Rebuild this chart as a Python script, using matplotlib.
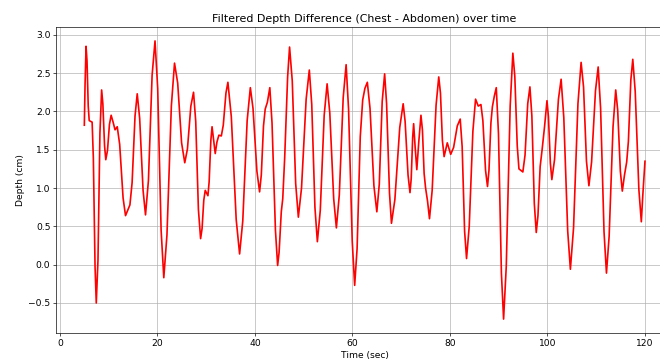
import numpy as np
import matplotlib
matplotlib.use('Agg')
import matplotlib.pyplot as plt

# Filtered chest-minus-abdomen depth signal, sampled along the trace
time_sec = [
    5.0, 5.15, 5.35, 5.55, 5.8, 6.0, 6.6, 6.85, 7.2, 7.45,
    7.8, 8.2, 8.55, 8.8, 9.15, 9.4, 9.75, 10.15, 10.5, 10.9,
    11.3, 11.75, 12.25, 12.95, 13.45, 13.9, 14.35, 14.8, 15.4, 15.85,
    16.35, 17.05, 17.55, 18.15, 18.9, 19.5, 20.05, 20.75, 21.3, 21.95,
    22.85, 23.5, 24.15, 24.95, 25.6, 26.15, 26.85, 27.4, 27.85, 28.4,
    28.85, 29.15, 29.5, 29.8, 30.35, 30.6, 30.95, 31.2, 31.5, 31.85,
    32.2, 32.6, 33.1, 33.5, 34.05, 34.45, 35.15, 36.15, 36.85, 37.5,
    38.4, 39.05, 39.6, 40.4, 40.95, 41.3, 41.75, 42.1, 42.55, 43.05,
    43.5, 44.2, 44.65, 44.95, 45.4, 45.7, 46.1, 46.7, 47.1, 47.65,
    48.35, 48.9, 49.55, 50.5, 51.15, 51.65, 52.3, 52.8, 53.4, 54.2,
    54.8, 55.35, 56.15, 56.7, 57.3, 58.1, 58.7, 59.2, 59.95, 60.45,
    60.95, 61.6, 62.1, 62.55, 63.05, 63.6, 64.4, 65.0, 65.5, 66.1,
    66.6, 67.0, 67.6, 68.0, 68.7, 69.7, 70.4, 70.8, 71.4, 71.8,
    72.05, 72.35, 72.55, 72.85, 73.2, 73.6, 74.05, 74.35, 74.7, 75.0,
    75.4, 75.8, 76.35, 77.15, 77.7, 78.05, 78.45, 78.8, 79.45, 80.15,
    80.75, 81.5, 82.1, 82.5, 83.0, 83.4, 83.95, 84.7, 85.25, 85.8,
    86.35, 86.75, 87.3, 87.7, 88.0, 88.4, 88.7, 89.1, 89.5, 89.95,
    90.55, 91.0, 91.55, 92.35, 92.9, 93.3, 93.8, 94.15, 94.95, 95.4,
    95.95, 96.4, 96.8, 97.3, 97.7, 98.05, 98.5, 98.9, 99.4, 99.9,
    100.2, 100.6, 100.9, 101.45, 102.25, 102.8, 103.35, 104.15, 104.7, 105.35,
    106.25, 106.9, 107.4, 108.0, 108.5, 109.05, 109.85, 110.4, 110.9, 111.6,
    112.1, 112.65, 113.45, 114.0, 114.4, 114.95, 115.35, 115.8, 116.25, 116.6,
    117.1, 117.5, 118.0, 118.75, 119.25, 119.55, 120.0,
]
depth_cm = [
    1.82, 2.35, 2.85, 2.66, 2.07, 1.88, 1.86, 1.39, -0.03, -0.50,
    0.06, 1.72, 2.28, 2.10, 1.55, 1.37, 1.49, 1.83, 1.95, 1.86,
    1.76, 1.80, 1.57, 0.87, 0.64, 0.71, 0.78, 1.07, 1.94, 2.23,
    1.91, 0.97, 0.65, 1.10, 2.47, 2.92, 2.30, 0.45, -0.17, 0.39,
    2.07, 2.63, 2.37, 1.59, 1.33, 1.51, 2.07, 2.25, 1.87, 0.72,
    0.34, 0.47, 0.84, 0.97, 0.90, 1.08, 1.62, 1.80, 1.64, 1.45,
    1.60, 1.69, 1.68, 1.82, 2.24, 2.38, 1.93, 0.59, 0.14, 0.57,
    1.88, 2.31, 2.04, 1.22, 0.95, 1.17, 1.81, 2.03, 2.12, 2.31,
    1.85, 0.45, -0.01, 0.16, 0.69, 0.86, 1.40, 2.45, 2.84, 2.40,
    1.06, 0.62, 1.00, 2.16, 2.54, 2.09, 0.75, 0.30, 0.71, 1.95,
    2.36, 1.98, 0.86, 0.48, 0.91, 2.18, 2.61, 2.03, 0.31, -0.27,
    0.21, 1.67, 2.15, 2.30, 2.38, 2.04, 1.03, 0.69, 1.05, 2.13,
    2.49, 2.10, 0.93, 0.54, 0.85, 1.79, 2.10, 1.87, 1.17, 0.94,
    1.12, 1.66, 1.84, 1.54, 1.24, 1.60, 1.95, 1.76, 1.19, 1.00,
    0.83, 0.60, 0.97, 2.08, 2.45, 2.24, 1.62, 1.41, 1.59, 1.44,
    1.53, 1.81, 1.90, 1.54, 0.44, 0.08, 0.50, 1.74, 2.16, 2.07,
    2.09, 1.88, 1.23, 1.02, 1.23, 1.85, 2.06, 2.20, 2.31, 1.71,
    -0.11, -0.71, -0.02, 2.07, 2.76, 2.46, 1.55, 1.25, 1.21, 1.43,
    2.10, 2.32, 1.94, 0.80, 0.42, 0.64, 1.28, 1.50, 1.80, 2.14,
    1.93, 1.32, 1.11, 1.37, 2.16, 2.42, 1.92, 0.44, -0.06, 0.48,
    2.10, 2.64, 2.32, 1.35, 1.03, 1.34, 2.27, 2.58, 2.04, 0.43,
    -0.11, 0.37, 1.80, 2.28, 2.02, 1.22, 0.96, 1.17, 1.34, 1.61,
    2.41, 2.68, 2.26, 0.98, 0.56, 0.90, 1.35,
]

plt.rcParams.update({
    'axes.titlesize': 13.2,
    'axes.labelsize': 11,
    'xtick.labelsize': 11,
    'ytick.labelsize': 11,
})

fig, ax = plt.subplots(figsize=(11, 6), dpi=60)
ax.plot(time_sec, depth_cm, color='red', linewidth=2)
ax.set_title('Filtered Depth Difference (Chest - Abdomen) over time')
ax.set_xlabel('Time (sec)')
ax.set_ylabel('Depth (cm)')
ax.grid(True)
fig.subplots_adjust(left=0.0853, right=1.0197, top=0.925, bottom=0.075)
fig.savefig('out.png', dpi=60)
